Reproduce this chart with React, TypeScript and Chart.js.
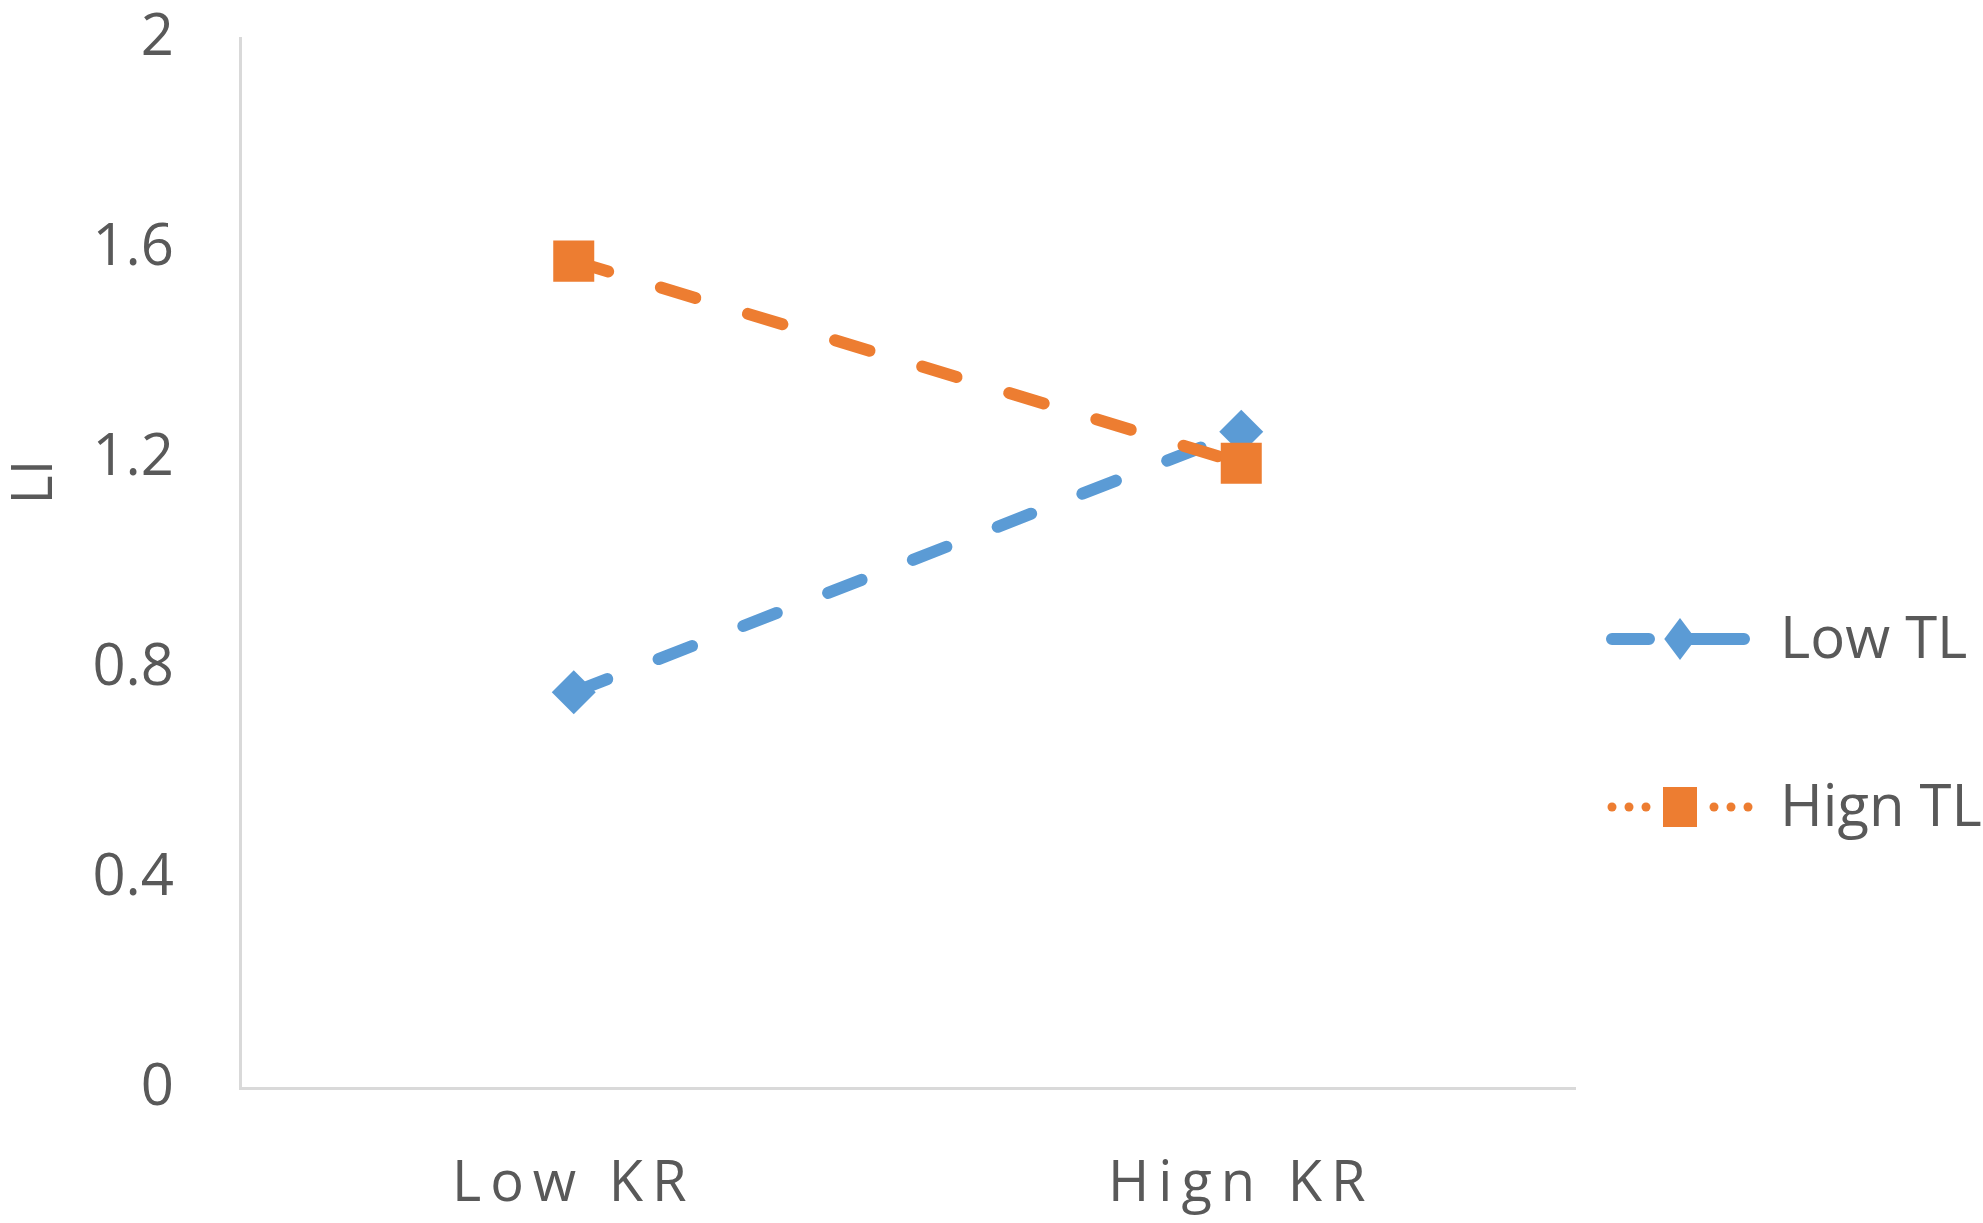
import React, { useEffect, useRef } from 'react';
import { Chart, registerables } from 'chart.js';

Chart.register(...registerables);

const categories = ['Low KR', 'Hign KR'];
const seriesNames = ['Low TL', 'Hign TL'];
const lowTL = [0.754, 1.25];
const hignTL = [1.575, 1.19];
const yTicks = [0, 0.4, 0.8, 1.2, 1.6, 2];
const yTitle = 'LI';

const BLUE = '#5B9BD5';
const ORANGE = '#ED7D31';
const TEXT = '#595959';
const AXIS = '#D9D9D9';
const FONT = '"Open Sans", "DejaVu Sans", sans-serif';

const customPlugin = {
  id: 'customDeco',
  afterLayout(chart: any) {
    const sc: any = chart.scales.x;
    if (sc && !sc.__spaced) {
      const orig = sc.drawLabels.bind(sc);
      sc.drawLabels = (area: any) => {
        const ctx = chart.ctx;
        ctx.save();
        (ctx as any).letterSpacing = '9px';
        orig(area);
        ctx.restore();
      };
      sc.__spaced = true;
    }
  },
  afterDraw(chart: any) {
    const { ctx, chartArea } = chart;
    // y axis title
    ctx.save();
    ctx.fillStyle = TEXT;
    ctx.font = `56px ${FONT}`;
    ctx.textAlign = 'center';
    ctx.textBaseline = 'middle';
    ctx.translate(36, 482);
    ctx.rotate(-Math.PI / 2);
    ctx.fillText(yTitle, 0, 0);
    ctx.restore();

    // legend
    const x0 = chartArea.right + 31;
    const mx = chartArea.right + 105;
    const x1 = chartArea.right + 175;
    const tx = chartArea.right + 205;
    const rows = [639, 807];
    const ds = chart.data.datasets;

    // row 1: dashed line with diamond
    ctx.save();
    ctx.strokeStyle = ds[0].borderColor;
    ctx.lineWidth = 12;
    ctx.lineCap = 'round';
    ctx.beginPath();
    ctx.moveTo(x0 + 6, rows[0]);
    ctx.lineTo(x0 + 43, rows[0]);
    ctx.moveTo(mx, rows[0]);
    ctx.lineTo(x1 - 6, rows[0]);
    ctx.stroke();
    ctx.fillStyle = ds[0].backgroundColor;
    ctx.beginPath();
    const r = 21;
    ctx.moveTo(mx, rows[0] - r);
    ctx.lineTo(mx + r * 0.75, rows[0]);
    ctx.lineTo(mx, rows[0] + r);
    ctx.lineTo(mx - r * 0.75, rows[0]);
    ctx.closePath();
    ctx.fill();
    ctx.restore();

    // row 2: dotted line with square
    ctx.save();
    ctx.fillStyle = ds[1].borderColor;
    for (let x = x0 + 6; x <= x1 + 6; x += 17) {
      if (Math.abs(x - mx) < 22) continue;
      ctx.beginPath();
      ctx.arc(x, rows[1], 4.5, 0, Math.PI * 2);
      ctx.fill();
    }
    ctx.fillStyle = ds[1].backgroundColor;
    ctx.fillRect(mx - 17, rows[1] - 20, 34, 40);
    ctx.restore();

    // legend text
    ctx.save();
    ctx.fillStyle = TEXT;
    ctx.font = `58px ${FONT}`;
    ctx.textAlign = 'left';
    ctx.textBaseline = 'middle';
    ctx.fillText(seriesNames[0], tx, rows[0] + 2);
    ctx.fillText(seriesNames[1], tx, rows[1] + 2);
    ctx.restore();
  },
};

export default function App() {
  const ref = useRef<HTMLCanvasElement | null>(null);

  useEffect(() => {
    if (!ref.current) return;
    const chart = new Chart(ref.current, {
      type: 'line',
      data: {
        labels: categories,
        datasets: [
          {
            label: seriesNames[0],
            data: lowTL,
            borderColor: BLUE,
            backgroundColor: BLUE,
            borderWidth: 12,
            borderDash: [36, 55],
            borderCapStyle: 'round',
            pointStyle: 'rectRot',
            pointRadius: 22,
            pointBorderWidth: 0,
            pointBackgroundColor: BLUE,
            order: 1,
            clip: false,
          },
          {
            label: seriesNames[1],
            data: hignTL,
            borderColor: ORANGE,
            backgroundColor: ORANGE,
            borderWidth: 12,
            borderDash: [36, 55],
            borderCapStyle: 'round',
            pointStyle: 'rect',
            pointRadius: 29,
            pointBorderWidth: 0,
            pointBackgroundColor: ORANGE,
            order: 0,
            clip: false,
          },
        ],
      } as any,
      options: {
        animation: false,
        responsive: false,
        layout: { padding: { left: 8, top: 38, right: 408, bottom: 0 } },
        plugins: {
          legend: { display: false },
          tooltip: { enabled: false },
        },
        scales: {
          x: {
            offset: true,
            grid: { display: false, drawTicks: false },
            border: { display: true, color: AXIS, width: 3 },
            ticks: {
              color: TEXT,
              font: { family: FONT, size: 56 },
              padding: 63,
              maxRotation: 0,
            },
            afterFit: (s: any) => {
              s.height = 135;
              s.paddingLeft = 0;
              s.paddingRight = 0;
            },
          },
          y: {
            min: 0,
            max: 2,
            grid: { display: false, drawTicks: false },
            border: { display: true, color: AXIS, width: 3 },
            ticks: {
              color: TEXT,
              font: { family: FONT, size: 58 },
              padding: 66,
              callback: (v: any) => String(Number(Number(v).toFixed(1))),
            },
            afterBuildTicks: (s: any) => {
              s.ticks = yTicks.map((v) => ({ value: v }));
            },
            afterFit: (s: any) => {
              s.width = 232;
              s.paddingTop = 0;
              s.paddingBottom = 0;
            },
          },
        },
      } as any,
      plugins: [customPlugin as any],
    });
    return () => chart.destroy();
  }, []);

  return (
    <div style={{ position: 'fixed', left: 0, top: 0, width: 1983, height: 1223, background: '#fff' }}>
      <canvas ref={ref} width={1983} height={1223} style={{ display: 'block', width: 1983, height: 1223 }} />
    </div>
  );
}
